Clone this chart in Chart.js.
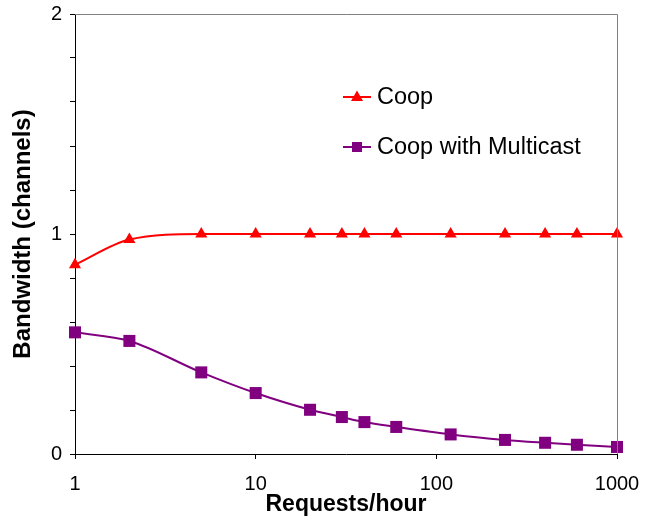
<!DOCTYPE html>
<html>
<head>
<meta charset="utf-8">
<script src="https://cdn.jsdelivr.net/npm/chart.js@4/dist/chart.umd.min.js"></script>
<style>
  html, body { margin: 0; padding: 0; background: #fff; }
  #wrap { width: 656px; height: 523px; }
</style>
</head>
<body>
<div id="wrap"><canvas id="bwChart" width="656" height="523"></canvas></div>
<script>
// Requests per hour (x, log scale)
const requests = [1, 2, 5, 10, 20, 30, 40, 60, 120, 240, 400, 600, 1000];
// Bandwidth in channels
const coop = [0.86, 0.975, 1, 1, 1, 1, 1, 1, 1, 1, 1, 1, 1];
const coopMulticast = [0.553, 0.514, 0.371, 0.277, 0.201, 0.168, 0.145, 0.123, 0.089, 0.064, 0.051, 0.042, 0.032];
const xTickValues = [1, 10, 100, 1000];
const yLabelled = [0, 1, 2];

const FONT = 'Arial, "Liberation Sans", sans-serif';

function toPoints(ys) {
    return requests.map((x, i) => ({ x: x, y: ys[i] }));
}

// Legend inside plot area + gray top/right frame like the Excel chart
const frameAndLegend = {
    id: 'frameAndLegend',
    afterDatasetsDraw(chart) {
        const ctx = chart.ctx;
        const a = chart.chartArea;
        ctx.save();
        ctx.strokeStyle = '#808080';
        ctx.lineWidth = 1;
        ctx.beginPath();
        ctx.moveTo(a.left, a.top + 0.5);
        ctx.lineTo(a.right + 0.5, a.top + 0.5);
        ctx.lineTo(a.right + 0.5, a.bottom);
        ctx.stroke();

        const x0 = 343, x1 = 371, tx = 377;
        const rows = [{ y: 97 }, { y: 147 }];
        chart.data.datasets.forEach((ds, i) => {
            const y = rows[i].y;
            const cx = (x0 + x1) / 2;
            ctx.strokeStyle = ds.borderColor;
            ctx.lineWidth = 2;
            ctx.beginPath();
            ctx.moveTo(x0, y);
            ctx.lineTo(x1, y);
            ctx.stroke();
            ctx.fillStyle = ds.borderColor;
            ctx.beginPath();
            if (ds.pointStyle === 'triangle') {
                ctx.moveTo(cx, y - 6.5);
                ctx.lineTo(cx + 6, y + 4);
                ctx.lineTo(cx - 6, y + 4);
            } else {
                ctx.rect(cx - 5, y - 5, 10, 10);
            }
            ctx.closePath();
            ctx.fill();
            ctx.fillStyle = '#000';
            ctx.font = '23.5px ' + FONT;
            ctx.textAlign = 'left';
            ctx.textBaseline = 'middle';
            ctx.fillText(ds.label, tx, y + 1);
        });
        ctx.restore();
    }
};

const ctx = document.getElementById('bwChart').getContext('2d');
new Chart(ctx, {
    type: 'line',
    data: {
        datasets: [{
            label: 'Coop',
            data: toPoints(coop),
            borderColor: '#FF0000',
            backgroundColor: '#FF0000',
            borderWidth: 2,
            pointStyle: 'triangle',
            pointRadius: 7,
            pointBorderWidth: 0,
            cubicInterpolationMode: 'monotone',
            clip: false
        }, {
            label: 'Coop with Multicast',
            data: toPoints(coopMulticast),
            borderColor: '#800080',
            backgroundColor: '#800080',
            borderWidth: 2,
            pointStyle: 'rect',
            pointRadius: 8.5,
            pointBorderWidth: 0,
            cubicInterpolationMode: 'monotone',
            clip: false
        }]
    },
    options: {
        responsive: false,
        animation: false,
        layout: { padding: { top: 14, right: 39, bottom: 0, left: 0 } },
        plugins: {
            legend: { display: false },
            tooltip: { enabled: false }
        },
        scales: {
            x: {
                type: 'logarithmic',
                min: 1,
                max: 1000,
                afterBuildTicks: function(scale) {
                    scale.ticks = xTickValues.map(v => ({ value: v }));
                },
                afterFit: function(scale) { scale.height = 69; },
                border: { color: '#000', width: 1 },
                grid: { drawOnChartArea: false, drawTicks: true, tickLength: 5, tickColor: '#000' },
                ticks: {
                    color: '#000',
                    font: { family: FONT, size: 20 },
                    padding: 13,
                    maxRotation: 0,
                    autoSkip: false,
                    callback: function(value) { return String(value); }
                },
                title: {
                    display: true,
                    text: 'Requests/hour',
                    color: '#000',
                    font: { family: FONT, size: 23, weight: 'bold' },
                    padding: { top: 0, bottom: 5 }
                }
            },
            y: {
                min: 0,
                max: 2,
                afterFit: function(scale) { scale.width = 75; },
                border: { color: '#000', width: 1 },
                grid: { drawOnChartArea: false, drawTicks: true, tickLength: 5, tickColor: '#000' },
                ticks: {
                    stepSize: 0.2,
                    color: '#000',
                    font: { family: FONT, size: 20, lineHeight: 0.5 },
                    padding: 8,
                    callback: function(value) {
                        const r = Math.round(value);
                        return (Math.abs(value - r) < 1e-6 && yLabelled.includes(r)) ? String(r) : '';
                    }
                },
                title: {
                    display: true,
                    text: 'Bandwidth (channels)',
                    color: '#000',
                    font: { family: FONT, size: 24, weight: 'bold' },
                    padding: { top: 9, bottom: 0 }
                }
            }
        }
    },
    plugins: [frameAndLegend]
});
</script>
</body>
</html>
